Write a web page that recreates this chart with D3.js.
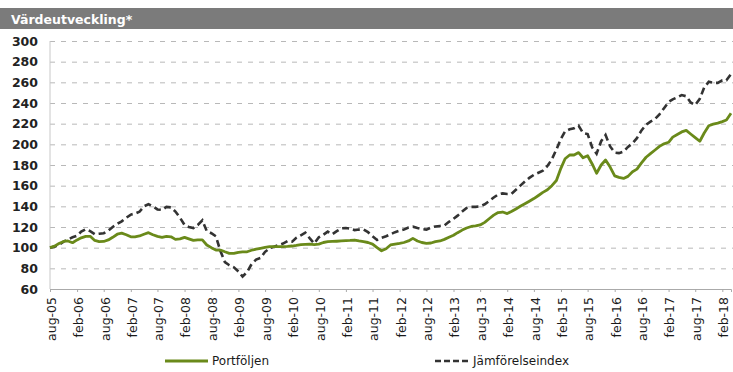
<!DOCTYPE html>
<html>
<head>
<meta charset="utf-8">
<script src="https://cdn.jsdelivr.net/npm/d3@7"></script>
<style>
  body { margin: 0; background: #fff; }
  svg { display: block; font-family: "DejaVu Sans", Verdana, sans-serif; }
  .grid line { stroke: #b8b8b8; stroke-dasharray: 5,6; }
  .grid path { display: none; }
  .yaxis path, .yaxis line { display: none; }
  .xaxis path { stroke: #aaa; }
  .xaxis line { stroke: #aaa; }
</style>
</head>
<body>
<script>
// monthly values, aug-05 .. apr-18
var startMonth = new Date(2005, 7, 1);

var portfolio = [
  100, 101.5, 104, 106, 106.5, 104.8, 107.5, 109.5, 111, 111,
  107, 105.8, 106, 107.5, 110, 113, 114, 112.5, 110.5, 110.5,
  111.3, 113, 114.5, 112.5, 111, 110, 111, 110.5, 108, 108.5,
  110, 108.5, 107, 107.5, 107.5, 102.6, 100, 97.7, 97.7, 96,
  94.5, 94.5, 95.5, 96, 96, 97.5, 98.5, 99.4, 100.2, 101,
  101, 101, 101, 101.2, 101.6, 102.2, 103, 103.2, 103.4, 103,
  103.5, 105, 105.8, 106, 106.2, 106.5, 106.8, 107, 107.4, 106.5,
  105.8, 105, 103.5, 100, 97, 99, 102.6, 103.5, 104.2, 105,
  106.5, 109, 106.5, 105, 104.2, 104.5, 105.8, 106.5, 108, 110,
  112, 114.5, 117, 119, 120.5, 121, 122, 124.5, 128, 131.5,
  134, 134.5, 133, 135, 137.5, 140, 142.5, 145, 147.5, 150.5,
  153.5, 156, 160, 165, 177, 186, 189.7, 189.7, 192, 187,
  189, 181, 172, 180, 184.8, 178, 169.5, 168, 167, 169,
  173.5, 176, 182, 187.5, 191, 194.5, 198, 200.5, 202, 207,
  209.5, 212, 213.5, 210, 206.5, 203, 211, 218, 219.5, 220.5,
  222, 223.5, 230
];

var benchmark = [
  100, 101, 102.6, 105.8, 108, 110, 111.5, 115.5, 117.8, 116,
  113, 113.5, 114, 116.5, 120, 123, 125.5, 129, 132, 133,
  134.8, 140, 142, 140, 137, 136.5, 139.5, 139, 135, 129,
  122, 120, 119, 122, 126.5, 116, 114, 111, 97, 86,
  83, 81, 77, 72, 76.5, 84, 88.5, 90, 96, 99.5,
  101, 102.5, 104, 106.5, 105.8, 109.5, 112, 114.5, 109, 104,
  110, 112.5, 115.5, 113, 116, 118.7, 119, 118.5, 117, 117.5,
  117.5, 115, 111, 107.5, 109.5, 111, 113, 115, 116.4, 117.5,
  119.5, 120.3, 119, 118, 117.5, 119.5, 120.5, 121, 121.5, 125,
  128, 131, 135, 138.5, 139.5, 139.5, 140, 142, 145, 148.5,
  151.5, 152.5, 152, 152, 156, 160, 164, 167.5, 170.5, 172.5,
  174.5, 179, 185.5, 195, 205.5, 212.5, 214.5, 215.5, 218, 211,
  210, 197, 191, 203, 209, 198, 192, 191.5, 193, 197.5,
  201, 206, 213.5, 219, 222, 224.5, 229, 235, 241, 243.5,
  245.5, 247.7, 246.5, 240.5, 238, 244, 255, 260.5, 259.5, 259.5,
  262, 262, 268
];

var tickLabels = ["aug-05", "feb-06", "aug-06", "feb-07", "aug-07", "feb-08", "aug-08",
  "feb-09", "aug-09", "feb-10", "aug-10", "feb-11", "aug-11", "feb-12", "aug-12",
  "feb-13", "aug-13", "feb-14", "aug-14", "feb-15", "aug-15", "feb-16", "aug-16",
  "feb-17", "aug-17", "feb-18"];

var yTicks = [60, 80, 100, 120, 140, 160, 180, 200, 220, 240, 260, 280, 300];

var seriesNames = ["Portföljen", "Jämförelseindex"];
var title = "Värdeutveckling*";

var w = 733, h = 372;
var margin = {top: 41, bottom: 83, left: 50, right: 2};

var dates = portfolio.map(function(d, i) { return d3.timeMonth.offset(startMonth, i); });

var x = d3.scaleTime()
    .domain([dates[0], dates[dates.length - 1]])
    .range([margin.left, w - margin.right]);

var y = d3.scaleLinear()
    .domain([60, 300])
    .range([h - margin.bottom, margin.top]);

var svg = d3.select("body").append("svg")
    .attr("width", w)
    .attr("height", h);

// title bar
svg.append("rect")
    .attr("x", 0).attr("y", 8)
    .attr("width", w).attr("height", 21)
    .attr("fill", "#7b7b7b");
svg.append("text")
    .attr("x", 11).attr("y", 23.5)
    .attr("fill", "#fff")
    .attr("font-weight", "bold")
    .attr("font-size", 12.5)
    .text(title);

// grid
svg.append("g")
    .attr("class", "grid")
    .attr("transform", "translate(" + margin.left + ",0)")
    .call(d3.axisRight(y).tickValues(yTicks.slice(1)).tickSize(w - margin.left).tickFormat(""));

svg.append("line")
    .attr("x1", margin.left).attr("x2", margin.left)
    .attr("y1", y(300)).attr("y2", y(60))
    .attr("stroke", "#c8c8c8");

// y axis labels
svg.append("g")
    .attr("class", "yaxis")
    .attr("transform", "translate(" + 38 + ",0)")
    .call(d3.axisLeft(y).tickValues(yTicks).tickSize(0).tickPadding(0))
    .selectAll("text")
    .attr("font-size", 12.5)
    .attr("font-weight", "bold")
    .attr("font-family", "DejaVu Sans")
    .attr("fill", "#222");

// x axis
var tickDates = tickLabels.map(function(d, i) { return d3.timeMonth.offset(startMonth, i * 6); });

var xAxis = svg.append("g")
    .attr("class", "xaxis")
    .attr("transform", "translate(0," + y(60) + ")")
    .call(d3.axisBottom(x).tickValues(tickDates).tickSize(3)
      .tickFormat(function(d, i) { return tickLabels[i]; }));

xAxis.selectAll("text")
    .attr("font-size", 12.5)
    .attr("font-family", "DejaVu Sans")
    .attr("fill", "#1a1a1a")
    .attr("text-anchor", "end")
    .attr("transform", "rotate(-90)")
    .attr("x", -8)
    .attr("y", 1)
    .attr("dy", "0.35em");

var line = d3.line()
    .x(function(d, i) { return x(dates[i]); })
    .y(function(d) { return y(d); });

svg.append("path")
    .datum(benchmark)
    .attr("fill", "none")
    .attr("stroke", "#333")
    .attr("stroke-width", 2.6)
    .attr("stroke-dasharray", "7,4")
    .attr("d", line);

svg.append("path")
    .datum(portfolio)
    .attr("fill", "none")
    .attr("stroke", "#6a8a1a")
    .attr("stroke-width", 2.8)
    .attr("stroke-linejoin", "round")
    .attr("d", line);

// legend
var legend = svg.append("g");
legend.append("line")
    .attr("x1", 165).attr("x2", 208)
    .attr("y1", 361).attr("y2", 361)
    .attr("stroke", "#6a8a1a").attr("stroke-width", 3);
legend.append("text")
    .attr("x", 212).attr("y", 361).attr("dy", "0.35em")
    .attr("font-size", 12).attr("fill", "#1a1a1a")
    .text(seriesNames[0]);
legend.append("line")
    .attr("x1", 435).attr("x2", 470)
    .attr("y1", 361).attr("y2", 361)
    .attr("stroke", "#333").attr("stroke-width", 2.5)
    .attr("stroke-dasharray", "6,3");
legend.append("text")
    .attr("x", 473).attr("y", 361).attr("dy", "0.35em")
    .attr("font-size", 12).attr("fill", "#1a1a1a")
    .text(seriesNames[1]);
</script>
</body>
</html>
